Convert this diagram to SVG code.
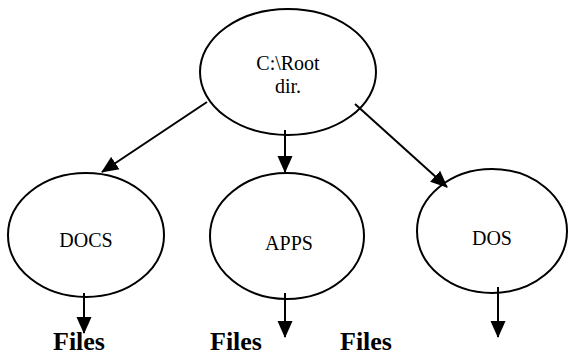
<svg xmlns="http://www.w3.org/2000/svg" width="569" height="356" viewBox="0 0 569 356">
  <style>
    .node { fill: #ffffff; stroke: #000000; stroke-width: 2; }
    .label { font-family: "Liberation Serif", "Times New Roman", "DejaVu Serif", serif; font-size: 20px; fill: #000000; text-anchor: middle; }
    .files { font-family: "Liberation Serif", "Times New Roman", "DejaVu Serif", serif; font-size: 26px; font-weight: bold; fill: #000000; text-anchor: middle; }
    .edge { stroke: #000000; stroke-width: 2; fill: none; marker-end: url(#head); }
  </style>
  <defs>
    <marker id="head" viewBox="0 0 17 16" refX="16" refY="8" markerWidth="17" markerHeight="16" markerUnits="userSpaceOnUse" orient="auto">
      <path d="M0,0.5 L17,8 L0,15.5 Z" fill="#000000"/>
    </marker>
  </defs>

  <g id="root">
    <ellipse class="node" cx="288" cy="72" rx="88" ry="63"/>
    <text class="label" x="288" y="70">C:\Root</text>
    <text class="label" x="288" y="93">dir.</text>
  </g>
  <g id="docs">
    <ellipse class="node" cx="86" cy="235" rx="78" ry="62"/>
    <text class="label" x="86" y="247">DOCS</text>
  </g>
  <g id="apps">
    <ellipse class="node" cx="287" cy="236" rx="77" ry="63"/>
    <text class="label" x="289" y="250">APPS</text>
  </g>
  <g id="dos">
    <ellipse class="node" cx="492" cy="231" rx="75" ry="62"/>
    <text class="label" x="492" y="245">DOS</text>
  </g>

  <g id="connectors">
    <line class="edge" x1="207" y1="102" x2="102" y2="172"/>
    <line class="edge" x1="285" y1="130" x2="285" y2="172"/>
    <line class="edge" x1="355" y1="104" x2="447" y2="187"/>
    <line class="edge" x1="84" y1="293" x2="84" y2="333"/>
    <line class="edge" x1="285" y1="293" x2="285" y2="337"/>
    <line class="edge" x1="498" y1="287" x2="498" y2="337"/>
  </g>

  <g id="files-labels">
    <text class="files" x="79" y="350">Files</text>
    <text class="files" x="236" y="350">Files</text>
    <text class="files" x="366" y="350">Files</text>
  </g>
</svg>
